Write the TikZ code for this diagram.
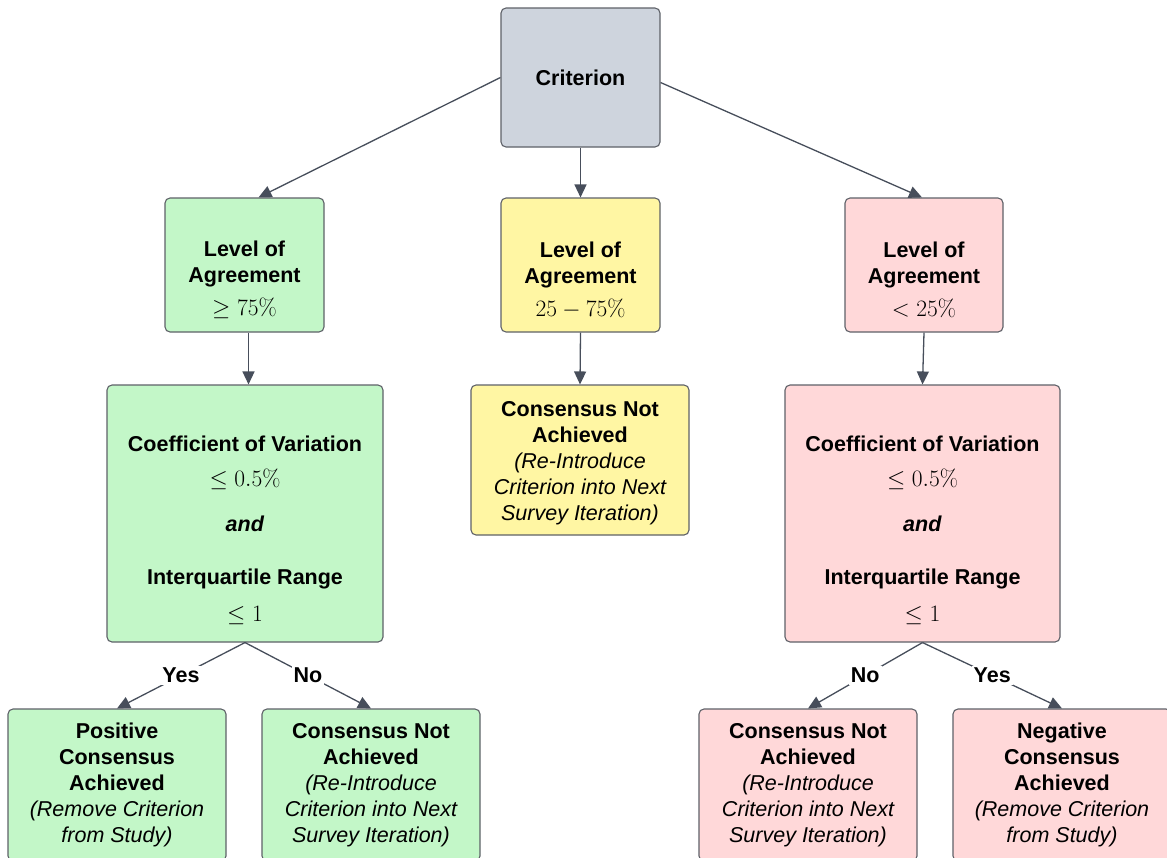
\RequirePackage{fix-cm}
\documentclass[tikz,border=0pt]{standalone}
\usepackage[no-math]{fontspec}
\setmainfont{Liberation Sans}
\usetikzlibrary{arrows.meta}

\definecolor{critfill}{HTML}{CED4DD}
\definecolor{agreefill}{HTML}{C3F7C8}
\definecolor{midfill}{HTML}{FFF6A3}
\definecolor{disfill}{HTML}{FFD8D9}
\definecolor{boxline}{HTML}{5E6168}
\definecolor{link}{HTML}{474E5B}

% vertical padding helper for the text blocks
\newcommand\padtop[1]{\rule{0pt}{#1}}
\newcommand\note[1]{{\mdseries\itshape #1}}
% thresholds set in slightly larger math
\newcommand\val[1]{{\fontsize{23.5}{26}\selectfont$#1$}}

\tikzset{
  box/.style={draw=boxline, line width=1.1pt, rounded corners=5pt, align=center,
    inner sep=0pt, font=\fontsize{21.5}{26}\selectfont\bfseries},
  arr/.style={draw=link, line width=1.3pt, -{Triangle[length=13pt,width=12pt]}},
  tag/.style={fill=white, inner sep=2pt, font=\fontsize{21.5}{26}\selectfont\bfseries},
}

\begin{document}
\begin{tikzpicture}[x=1pt,y=-1pt]
\useasboundingbox (0,0) rectangle (1167,857);
\clip (0,0) rectangle (1167,857);

% root
\node[box, fill=critfill, minimum width=159pt, minimum height=139pt] (crit) at (580.5,77.5) {Criterion};

% level of agreement
\node[box, fill=agreefill, minimum width=159pt, minimum height=134pt] (g1) at (244.5,265)
  {\padtop{46pt}Level of\\Agreement\\[7pt]\val{\geq 75\%}};
\node[box, fill=midfill, minimum width=159pt, minimum height=134pt] (y1) at (580.5,265)
  {\padtop{46pt}Level of\\Agreement\\[7pt]\val{25-75\%}};
\node[box, fill=disfill, minimum width=158pt, minimum height=134pt] (r1) at (924,265)
  {\padtop{46pt}Level of\\Agreement\\[7pt]\val{<25\%}};

% second level
\node[box, fill=agreefill, minimum width=276pt, minimum height=257pt] (g2) at (245,513.5)
  {\padtop{50pt}Coefficient of Variation\\[9pt]\val{\leq 0.5\%}\\[19pt]\textit{and}\\[27pt]Interquartile Range\\[11pt]\val{\leq 1}};
\node[box, fill=midfill, minimum width=218pt, minimum height=150pt] (y2) at (580,460)
  {\padtop{22pt}Consensus Not\\Achieved\\\note{(Re-Introduce}\\\note{Criterion into Next}\\\note{Survey Iteration)}};
\node[box, fill=disfill, minimum width=275pt, minimum height=257pt] (r2) at (922.5,513.5)
  {\padtop{50pt}Coefficient of Variation\\[9pt]\val{\leq 0.5\%}\\[19pt]\textit{and}\\[27pt]Interquartile Range\\[11pt]\val{\leq 1}};

% outcomes (running past the lower edge)
\node[box, fill=agreefill, minimum width=218pt, minimum height=152pt] (b1) at (117,785)
  {Positive\\Consensus\\Achieved\\\note{(Remove Criterion}\\\note{from Study)}};
\node[box, fill=agreefill, minimum width=218pt, minimum height=152pt] (b2) at (371,785)
  {Consensus Not\\Achieved\\\note{(Re-Introduce}\\\note{Criterion into Next}\\\note{Survey Iteration)}};
\node[box, fill=disfill, minimum width=218pt, minimum height=152pt] (b3) at (808,785)
  {Consensus Not\\Achieved\\\note{(Re-Introduce}\\\note{Criterion into Next}\\\note{Survey Iteration)}};
\node[box, fill=disfill, minimum width=218pt, minimum height=152pt] (b4) at (1062,785)
  {Negative\\Consensus\\Achieved\\\note{(Remove Criterion}\\\note{from Study)}};

% connectors
\draw[arr] (crit.west) -- ([xshift=14pt]g1.north);
\draw[arr] (crit.south) -- (y1.north);
\draw[arr] ([yshift=-5pt]crit.east) -- ([xshift=-2pt]r1.north);

\draw[arr] ([xshift=4pt]g1.south) -- ([xshift=4pt]g1.south |- g2.north);
\draw[arr] (y1.south) -- (y2.north);
\draw[arr] (r1.south) -- (r2.north);

\draw[arr] (g2.south) -- node[tag] (yes1) {Yes} (b1.north);
\draw[arr] (g2.south) -- node[tag] (no1) {No} (b2.north);
\draw[arr] (r2.south) -- node[tag] (no2) {No} (b3.north);
\draw[arr] (r2.south) -- node[tag] (yes2) {Yes} (b4.north);
\end{tikzpicture}
\end{document}
